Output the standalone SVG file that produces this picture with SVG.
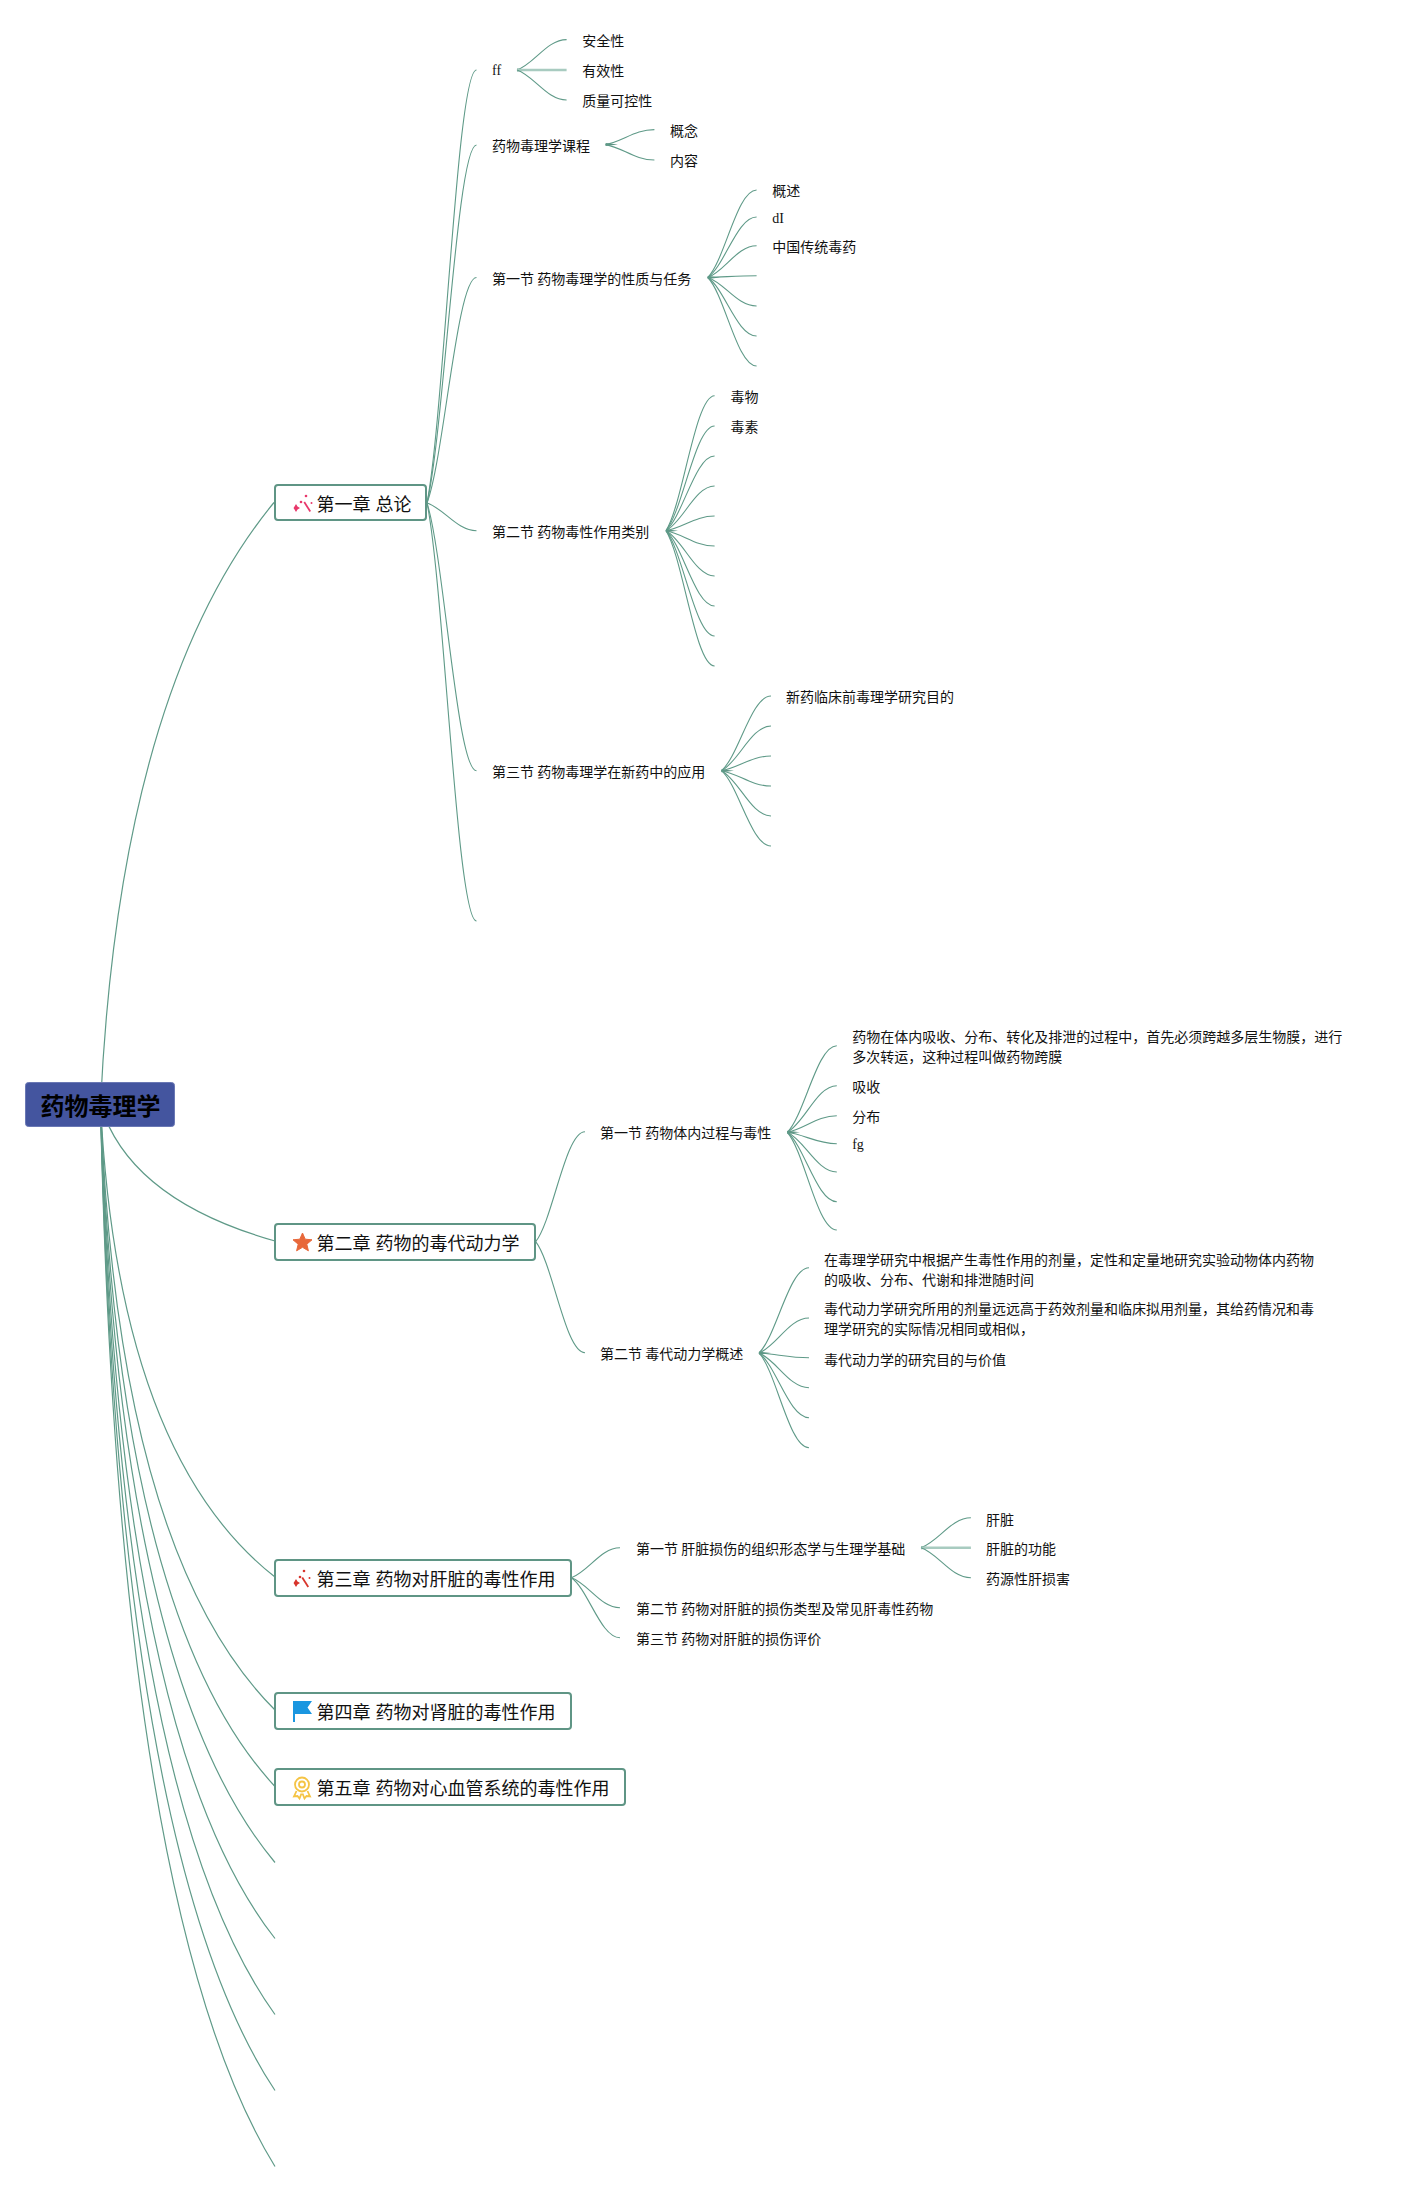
<svg xmlns="http://www.w3.org/2000/svg" width="1412" height="2192" viewBox="0 0 1412 2192">
<style>
text{font-family:"Noto Sans CJK SC","Noto Sans",sans-serif;font-size:14px;fill:#111}
.s{font-family:"Liberation Serif",serif}
.ch text{font-size:18px;word-spacing:1px}
.ch rect{fill:#fff;stroke:#5f9585;stroke-width:2}
#connectors path{fill:none;stroke:#5f9a88;stroke-width:1.1}
#connectors .r{stroke-width:1.2}
#connectors .n{fill:#5f9585;stroke:none}
#connectors .p{stroke:#a8cbc0;stroke-width:2.6}
</style>
<rect width="1412" height="2192" fill="#fff"/>
<g id="connectors">
<path class="r" d="M100.5 1105Q120 690 274 502.500"/>
<path class="r" d="M100.500 1105Q130 1200 275 1241"/>
<path class="r" d="M100.500 1105Q118 1454 275 1577"/>
<path class="r" d="M100.500 1105Q118 1553 275 1710"/>
<path class="r" d="M100.500 1105Q118 1618 275 1786.500"/>
<path class="r" d="M100.500 1105Q118 1675 275 1862.500"/>
<path class="r" d="M100.500 1105Q118 1738 275 1938.500"/>
<path class="r" d="M100.500 1105Q118 1796 275 2014.500"/>
<path class="r" d="M100.500 1105Q118 1854 275 2090.500"/>
<path class="r" d="M100.500 1105Q118 1912 275 2166.500"/>

<path d="M427 503C444 416 457 70 476.5 70"/>
<path d="M427 503C444 431 457 145 476.5 145"/>
<path d="M427 503C444 458 457 277.500 476.5 277.500"/>
<path d="M427 503C444 508.500 457 530.700 476.5 530.700"/>
<path d="M427 503C444 556.500 457 770.700 476.5 770.700"/>
<path d="M427 503C444 586 457 921 476.5 921"/>

<path class="n" d="M517 68.500V71.500L530 70Z"/>
<path d="M517 70C534.400 64 546.800 39.600 566.600 39.600"/>
<path class="p" d="M517 70H566.600"/>
<path d="M517 70C534.400 76 546.800 100 566.600 100"/>

<path class="n" d="M605.600 143.100V146.100L618 144.600Z"/>
<path d="M605.600 144.600C622.700 141.600 634.900 129.600 654.400 129.600"/>
<path d="M605.600 144.600C622.700 147.700 634.900 160 654.400 160"/>

<path class="n" d="M707.800 276V279L720 277.500Z"/>
<path d="M707.800 277.500C724.900 260 737.100 190 756.600 190"/>
<path d="M707.800 277.500C724.900 265.400 737.100 217 756.600 217"/>
<path d="M707.800 277.500C724.900 271.100 737.100 245.700 756.600 245.700"/>
<path d="M707.800 277.500C724.900 277.100 737.100 275.700 756.600 275.700"/>
<path d="M707.800 277.500C724.900 283.200 737.100 306 756.600 306"/>
<path d="M707.800 277.500C724.900 289.200 737.100 336 756.600 336"/>
<path d="M707.800 277.500C724.900 295.200 737.100 366 756.600 366"/>

<path class="n" d="M666 529.200V532.200L678 530.700Z"/>
<path d="M666 530.700C683 503.700 695.200 395.700 714.600 395.700"/>
<path d="M666 530.700C683 509.800 695.200 426 714.600 426"/>
<path d="M666 530.700C683 515.800 695.200 456 714.600 456"/>
<path d="M666 530.700C683 521.800 695.200 486 714.600 486"/>
<path d="M666 530.700C683 527.800 695.200 516 714.600 516"/>
<path d="M666 530.700C683 533.800 695.200 546 714.600 546"/>
<path d="M666 530.700C683 539.800 695.200 576 714.600 576"/>
<path d="M666 530.700C683 545.800 695.200 606 714.600 606"/>
<path d="M666 530.700C683 551.800 695.200 636 714.600 636"/>
<path d="M666 530.700C683 557.800 695.200 666 714.600 666"/>

<path class="n" d="M721.500 769.200V772.200L734 770.700Z"/>
<path d="M721.500 770.700C738.800 755.800 751.200 696 771 696"/>
<path d="M721.500 770.700C738.800 761.800 751.200 726 771 726"/>
<path d="M721.500 770.700C738.800 767.800 751.200 756 771 756"/>
<path d="M721.500 770.700C738.800 773.800 751.200 786 771 786"/>
<path d="M721.500 770.700C738.800 779.800 751.200 816 771 816"/>
<path d="M721.500 770.700C738.800 785.800 751.200 846 771 846"/>

<path d="M535.700 1241.700C553 1219.700 565.300 1131.700 585 1131.700"/>
<path d="M535.700 1241.700C553 1263.900 565.300 1352.700 585 1352.700"/>

<path class="n" d="M787.300 1130.800V1133.800L800 1132.300Z"/>
<path d="M787.300 1132.300C804.600 1115 817 1045.700 836.800 1045.700"/>
<path d="M787.300 1132.300C804.600 1123 817 1085.700 836.800 1085.700"/>
<path d="M787.300 1132.300C804.600 1129 817 1115.700 836.800 1115.700"/>
<path d="M787.300 1132.300C804.600 1134.600 817 1143.700 836.800 1143.700"/>
<path d="M787.300 1132.300C804.600 1140.200 817 1172 836.800 1172"/>
<path d="M787.300 1132.300C804.600 1146.200 817 1201.700 836.800 1201.700"/>
<path d="M787.300 1132.300C804.600 1151.800 817 1230 836.800 1230"/>

<path class="n" d="M759 1351.500V1354.500L771 1353Z"/>
<path d="M759 1353C776.500 1336 789 1267.700 809 1267.700"/>
<path d="M759 1353C776.500 1346 789 1318 809 1318"/>
<path d="M759 1353C776.500 1354 789 1357.700 809 1357.700"/>
<path d="M759 1353C776.500 1360 789 1387.700 809 1387.700"/>
<path d="M759 1353C776.500 1366 789 1417.700 809 1417.700"/>
<path d="M759 1353C776.500 1372 789 1447.700 809 1447.700"/>

<path d="M571.400 1577.700C588.400 1571.700 600.600 1547.700 620 1547.700"/>
<path d="M571.400 1577.700C588.400 1583.700 600.600 1607.700 620 1607.700"/>
<path d="M571.400 1577.700C588.400 1589.700 600.600 1637.700 620 1637.700"/>

<path class="n" d="M921 1546.200V1549.200L934 1547.700Z"/>
<path d="M921 1547.700C938.500 1541.700 951 1517.700 970.900 1517.700"/>
<path class="p" d="M921 1547.700H970.900"/>
<path d="M921 1547.700C938.500 1553.700 951 1577.700 970.900 1577.700"/>
</g>

<g id="root"><rect x="25.500" y="1082.500" width="149" height="44" rx="3" fill="#44559f" stroke="#6a78b4"/><text x="40.500" y="1114.500" style="font-size:24px;font-weight:700;fill:#000">药物毒理学</text></g>

<g id="ch1" class="ch"><rect x="275" y="485" width="151" height="35" rx="3"/>
<g fill="#e8386b"><path d="M305 501.500l6 9.500-1.500 1-6-9.500z"/><path d="M296 504l1.500 2.500 2.500 1.500-2.500 1.500-1.500 2.500-1.500-2.500-1-1.500 1-1.500z"/><circle cx="301" cy="502" r="1.300"/><circle cx="306" cy="496" r="1.300"/><circle cx="311.500" cy="503" r="1"/></g>
<text x="316.500" y="511">第一章 总论</text></g>

<g id="ch2" class="ch"><rect x="275" y="1224" width="260" height="36" rx="3"/>
<path d="M302.500 1233l2.700 6.200 6.800.6-5.200 4.400 1.600 6.600-5.900-3.500-5.900 3.500 1.600-6.600-5.200-4.400 6.800-.6z" fill="#e8683a" stroke="#e8683a" stroke-linejoin="round"/>
<text x="316.500" y="1250">第二章 药物的毒代动力学</text></g>

<g id="ch3" class="ch"><rect x="275" y="1560" width="296" height="36" rx="3"/>
<g fill="#d8352c"><path d="M303 1577l6 9.500-1.500 1-6-9.500z"/><path d="M296 1579l1.500 2.500 2.500 1.500-2.500 1.500-1.500 2.500-1.500-2.500-1-1.500 1-1.500z"/><circle cx="300" cy="1577" r="1.300"/><circle cx="304" cy="1571" r="1.300"/><circle cx="309.500" cy="1578" r="1"/></g>
<text x="316.500" y="1585.500">第三章 药物对肝脏的毒性作用</text></g>

<g id="ch4" class="ch"><rect x="275" y="1693" width="296" height="36" rx="3"/>
<path d="M293 1722V1701H312L307.500 1707.500 312 1714H295V1722Z" fill="#1a96e0"/>
<text x="316.500" y="1718.500">第四章 药物对肾脏的毒性作用</text></g>

<g id="ch5" class="ch"><rect x="275" y="1769" width="350" height="36" rx="3"/>
<g fill="none" stroke="#f5c445" stroke-width="1.800"><circle cx="302" cy="1784.500" r="7"/><circle cx="302" cy="1784.500" r="3"/><path d="M296.500 1791l-2.500 5.500 3.500-.5 2 2.500 2-5M307.500 1791l2.500 5.500-3.500-.5-2 2.500-2-5"/></g>
<text x="316.500" y="1794.500">第五章 药物对心血管系统的毒性作用</text></g>

<g id="n1"><text x="492" y="75" class="s">ff</text></g>
<g id="n1a"><text x="582.200" y="45.500">安全性</text></g>
<g id="n1b"><text x="582.200" y="75.500">有效性</text></g>
<g id="n1c"><text x="582.200" y="105.500">质量可控性</text></g>
<g id="n2"><text x="492" y="151">药物毒理学课程</text></g>
<g id="n2a"><text x="670" y="136">概念</text></g>
<g id="n2b"><text x="670" y="166">内容</text></g>
<g id="n3"><text x="492" y="284">第一节 药物毒理学的性质与任务</text></g>
<g id="n3a"><text x="772.200" y="195.800">概述</text></g>
<g id="n3b"><text x="772.200" y="222.500" class="s">dI</text></g>
<g id="n3c"><text x="772.200" y="251.800">中国传统毒药</text></g>
<g id="n4"><text x="492" y="536.500">第二节 药物毒性作用类别</text></g>
<g id="n4a"><text x="730.600" y="401.500">毒物</text></g>
<g id="n4b"><text x="730.600" y="431.800">毒素</text></g>
<g id="n5"><text x="492" y="777">第三节 药物毒理学在新药中的应用</text></g>
<g id="n5a"><text x="786" y="702">新药临床前毒理学研究目的</text></g>

<g id="n6"><text x="600" y="1137.500">第一节 药物体内过程与毒性</text></g>
<g id="n6a"><text x="852.200" y="1042">药物在体内吸收、分布、转化及排泄的过程中，首先必须跨越多层生物膜，进行</text><text x="852.200" y="1062">多次转运，这种过程叫做药物跨膜</text></g>
<g id="n6b"><text x="852.200" y="1092">吸收</text></g>
<g id="n6c"><text x="852.200" y="1122">分布</text></g>
<g id="n6d"><text x="852.200" y="1149" class="s">fg</text></g>
<g id="n7"><text x="600" y="1358.500">第二节 毒代动力学概述</text></g>
<g id="n7a"><text x="824" y="1264.700">在毒理学研究中根据产生毒性作用的剂量，定性和定量地研究实验动物体内药物</text><text x="824" y="1284.700">的吸收、分布、代谢和排泄随时间</text></g>
<g id="n7b"><text x="824" y="1313.700">毒代动力学研究所用的剂量远远高于药效剂量和临床拟用剂量，其给药情况和毒</text><text x="824" y="1333.700">理学研究的实际情况相同或相似，</text></g>
<g id="n7c"><text x="824" y="1364.500">毒代动力学的研究目的与价值</text></g>

<g id="n8"><text x="636" y="1553.500">第一节 肝脏损伤的组织形态学与生理学基础</text></g>
<g id="n8a"><text x="986" y="1524.500">肝脏</text></g>
<g id="n8b"><text x="986" y="1553.500">肝脏的功能</text></g>
<g id="n8c"><text x="986" y="1583.500">药源性肝损害</text></g>
<g id="n9"><text x="636" y="1613.500">第二节 药物对肝脏的损伤类型及常见肝毒性药物</text></g>
<g id="n10"><text x="636" y="1643.500">第三节 药物对肝脏的损伤评价</text></g>
</svg>
